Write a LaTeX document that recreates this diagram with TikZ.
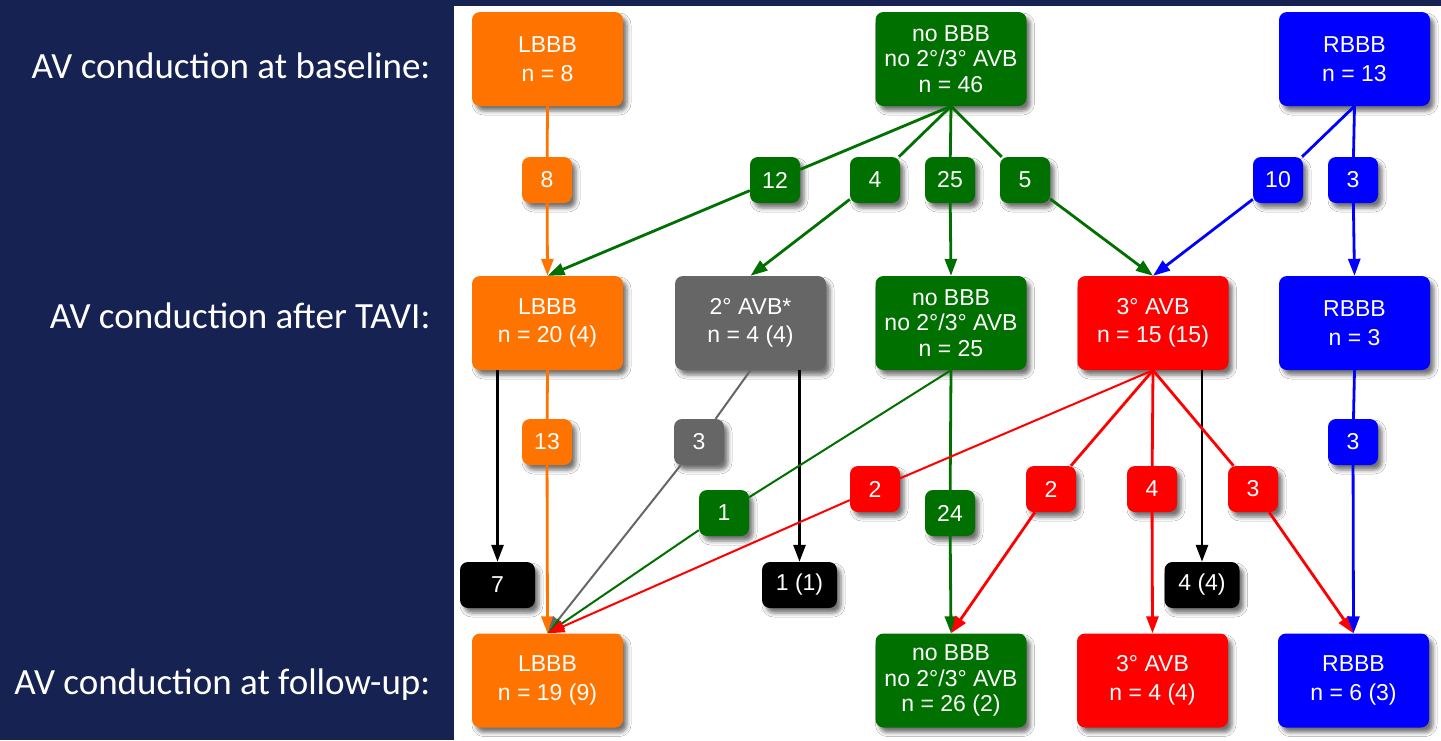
\documentclass[tikz,border=0pt]{standalone}
\usepackage{fontspec}
\setmainfont{Liberation Sans}
\newfontfamily\calib{Carlito}
\usetikzlibrary{arrows.meta,shadows.blur}
\definecolor{navy}{RGB}{21,34,82}
\definecolor{cOr}{RGB}{255,116,0}
\definecolor{cGr}{RGB}{0,112,0}
\definecolor{cBl}{RGB}{0,0,255}
\definecolor{cRd}{RGB}{255,0,0}
\definecolor{cGy}{RGB}{102,102,102}
\begin{document}
\begin{tikzpicture}[x=1pt,y=-1pt,
  shad/.style={blur shadow={shadow xshift=4pt,shadow yshift=-5pt,shadow blur radius=4pt,shadow opacity=55}},
  box/.style={shad,rounded corners=8pt,minimum width=151pt,minimum height=94pt,text=white,align=center,inner sep=0pt},
  two/.style={box,font=\fontsize{23}{28.5}\selectfont},
  three/.style={box,font=\fontsize{23}{25.5}\selectfont},
  lab/.style={shad,rounded corners=8pt,minimum width=50pt,minimum height=46pt,text=white,inner sep=0pt,font=\fontsize{23}{26}\selectfont},
  sink/.style={lab,fill=black,minimum width=75pt},
  ed/.style={line width=2.8pt},
  thin/.style={line width=2pt},
  arr/.style={-{Triangle[length=17pt,width=12pt]}},
  rowlab/.style={anchor=base east,text=white,font=\calib\fontsize{37}{40}\selectfont}
]
\useasboundingbox (0,0) rectangle (1441,740);
\fill[navy] (0,0) rectangle (1441,740);
\fill[white] (454,6) rectangle (1441,740);

% row labels
\node[rowlab] (t1) at (434,78) {AV conduction at baseline:};
\node[rowlab] (t2) at (434,328) {AV conduction after TAVI:};
\node[rowlab] (t3) at (434,694) {AV conduction at follow-up:};

% top row
\node[two,fill=cOr] (lb8) at (547.5,59) {LBBB\\n = 8};
\node[three,fill=cGr] (n46) at (951,59) {no BBB\\no 2°/3° AVB\\n = 46};
\node[two,fill=cBl] (rb13) at (1354.5,59) {RBBB\\n = 13};

% middle row
\node[two,fill=cOr] (lb20) at (547.5,323) {LBBB\\n = 20 (4)};
\node[two,fill=cGy] (g4) at (750.5,323) {2° AVB*\\n = 4 (4)};
\node[three,fill=cGr] (n25) at (951,323) {no BBB\\no 2°/3° AVB\\n = 25};
\node[two,fill=cRd] (r15) at (1153,323) {3° AVB\\n = 15 (15)};
\node[two,fill=cBl] (rb3) at (1354.5,323) {RBBB\\n = 3};

% bottom row
\node[two,fill=cOr] (lb19) at (547.5,680.5) {LBBB\\n = 19 (9)};
\node[three,fill=cGr] (n26) at (951,680.5) {no BBB\\no 2°/3° AVB\\n = 26 (2)};
\node[two,fill=cRd] (r4) at (1152.5,680.5) {3° AVB\\n = 4 (4)};
\node[two,fill=cBl] (rb6) at (1353.5,680.5) {RBBB\\n = 6 (3)};

% sinks
\node[sink] (k7) at (497.5,585) {7};
\node[sink] (k11) at (799.5,585) {1 (1)};
\node[sink] (k44) at (1202,585) {4 (4)};

% labels row 1
\node[lab,fill=cOr] (l8) at (547,180) {8};
\node[lab,fill=cGr] (l12) at (775,180) {12};
\node[lab,fill=cGr] (l4) at (875,180) {4};
\node[lab,fill=cGr] (l25) at (950,180) {25};
\node[lab,fill=cGr] (l5) at (1025,180) {5};
\node[lab,fill=cBl] (l10) at (1278,180) {10};
\node[lab,fill=cBl] (l3a) at (1353,180) {3};

% labels row 2
\node[lab,fill=cOr] (l13) at (547,442) {13};
\node[lab,fill=cGy] (l3g) at (699,442) {3};
\node[lab,fill=cBl] (l3b) at (1353,442) {3};
\node[lab,fill=cRd] (l2a) at (875,489) {2};
\node[lab,fill=cRd] (l2b) at (1051,489) {2};
\node[lab,fill=cRd] (l4r) at (1152,489) {4};
\node[lab,fill=cRd] (l3r) at (1253,489) {3};
\node[lab,fill=cGr] (l1) at (724,513) {1};
\node[lab,fill=cGr] (l24) at (950,513) {24};

% edges top -> middle
\draw[ed,cOr] (lb8.south) -- (l8);
\draw[ed,cOr,arr] (l8) -- (lb20.north);
\draw[ed,cGr] (n46.south) -- (l12);
\draw[ed,cGr,arr] (l12) -- (lb20.north);
\draw[ed,cGr] (n46.south) -- (l4);
\draw[ed,cGr,arr] (l4) -- (g4.north);
\draw[ed,cGr] (n46.south) -- (l25);
\draw[ed,cGr,arr] (l25) -- (n25.north);
\draw[ed,cGr] (n46.south) -- (l5);
\draw[ed,cGr,arr] (l5) -- (r15.north);
\draw[ed,cBl] (rb13.south) -- (l10);
\draw[ed,cBl,arr] (l10) -- (r15.north);
\draw[ed,cBl] (rb13.south) -- (l3a);
\draw[ed,cBl,arr] (l3a) -- (rb3.north);

% edges middle -> bottom
\draw[ed,black,arr] (k7.north |- lb20.south) -- (k7.north);
\draw[ed,cOr] (lb20.south) -- (l13);
\draw[ed,cOr,arr] (l13) -- (lb19.north);
\draw[thin,cGy] (g4.south) -- (l3g);
\draw[thin,cGy,arr] (l3g) -- (lb19.north);
\draw[ed,black,arr] (k11.north |- g4.south) -- (k11.north);
\draw[thin,cGr] (n25.south) -- (l1);
\draw[thin,cGr,arr] (l1) -- (lb19.north);
\draw[ed,cGr] (n25.south) -- (l24);
\draw[ed,cGr,arr] (l24) -- (n26.north);
\draw[thin,cRd] (r15.south) -- (l2a);
\draw[thin,cRd,arr] (l2a) -- (lb19.north);
\draw[ed,cRd] (r15.south) -- (l2b);
\draw[ed,cRd,arr] (l2b) -- (n26.north);
\draw[ed,cRd] (r15.south) -- (l4r);
\draw[ed,cRd,arr] (l4r) -- (r4.north);
\draw[ed,black,arr] (k44.north |- r15.south) -- (k44.north);
\draw[ed,cRd] (r15.south) -- (l3r);
\draw[ed,cRd,arr] (l3r) -- (rb6.north);
\draw[ed,cBl] (rb3.south) -- (l3b);
\draw[ed,cBl,arr] (l3b) -- (rb6.north);
\end{tikzpicture}
\end{document}
